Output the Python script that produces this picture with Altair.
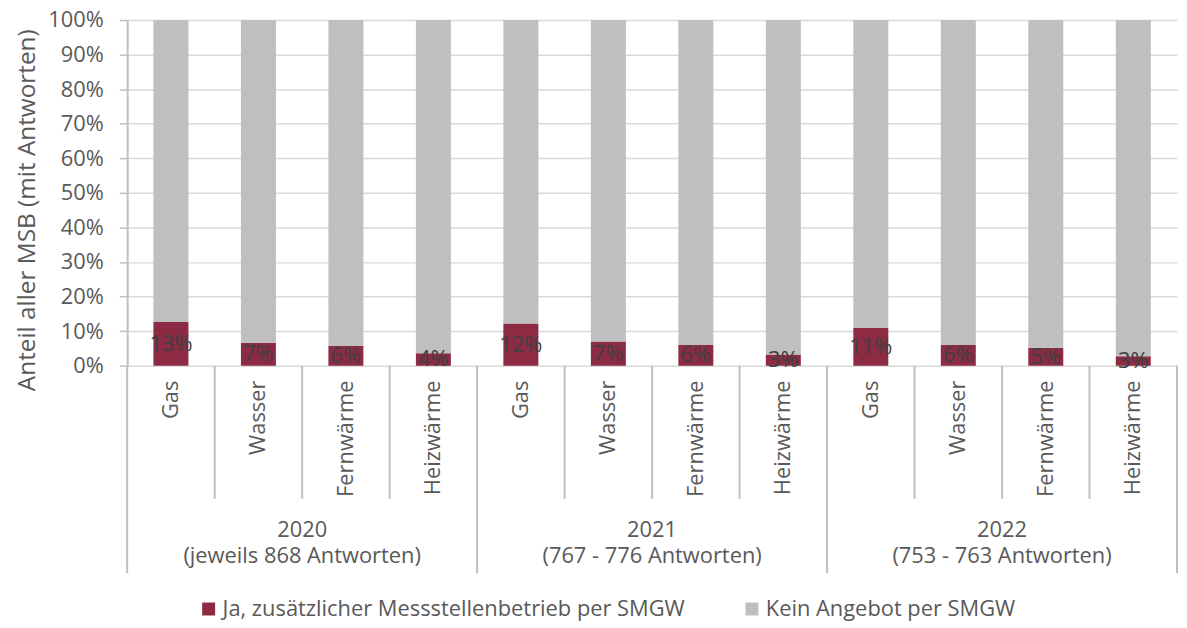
import altair as alt
import pandas as pd

years = ["2020", "2021", "2022"]
year_notes = ["(jeweils 868 Antworten)", "(767 - 776 Antworten)", "(753 - 763 Antworten)"]
categories = ["Gas", "Wasser", "Fernwärme", "Heizwärme"]
series_names = ["Ja, zusätzlicher Messstellenbetrieb per SMGW", "Kein Angebot per SMGW"]
ja_values = [12.6, 6.6, 5.7, 3.6, 12.2, 7.0, 6.0, 3.2, 10.9, 6.0, 5.2, 2.7]
y_ticks = [0, 10, 20, 30, 40, 50, 60, 70, 80, 90, 100]
colors = ["#8C2B43", "#BFBFBF"]

FONT = "Open Sans"
TXT = "#595959"
FS = 22

rows, lab_rows, cat_rows = [], [], []
i = 0
for y in years:
    for c in categories:
        v = ja_values[i]
        rows.append({"series": series_names[0], "x0": i + 0.3, "x1": i + 0.7, "lo": 0, "hi": v, "ord": 0})
        rows.append({"series": series_names[1], "x0": i + 0.3, "x1": i + 0.7, "lo": v, "hi": 100, "ord": 1})
        lab_rows.append({"xc": i + 0.5, "ym": v / 2, "txt": f"{v:.0f}%"})
        cat_rows.append({"xc": i + 0.5, "cat": c})
        i += 1
bars_df = pd.DataFrame(rows)
lab_df = pd.DataFrame(lab_rows)
cat_df = pd.DataFrame(cat_rows)
inner_df = pd.DataFrame({"b": [k for k in range(13) if k % 4 != 0]})
group_df = pd.DataFrame({"b": [0, 4, 8, 12]})
year_df = pd.DataFrame({"xc": [2, 6, 10], "y1": years, "y2": year_notes})

xs = alt.Scale(domain=[0, 12], nice=False, zero=False)
ys = alt.Scale(domain=[0, 100], nice=False)
yaxis = alt.Axis(
    title="Anteil aller MSB (mit Antworten)", values=y_ticks, tickCount=11,
    labelExpr="datum.value + '%'", labelOverlap=False, labelFlush=False,
    titleX=-100, titleY=191, titleAngle=270, titleAlign="center", titleBaseline="middle")

bars = alt.Chart(bars_df).mark_bar().encode(
    x=alt.X("x0:Q", scale=xs, axis=None),
    x2="x1",
    y=alt.Y("lo:Q", scale=ys, axis=yaxis),
    y2="hi",
    color=alt.Color("series:N", scale=alt.Scale(domain=series_names, range=colors),
                    legend=alt.Legend(title=None, orient="none", direction="horizontal",
                                      legendX=71, legendY=582, symbolType="square",
                                      symbolSize=170, symbolStrokeWidth=0,
                                      labelFontSize=FS, labelColor=TXT, labelFont=FONT,
                                      columnPadding=56, labelOffset=3, labelLimit=700)),
    order="ord:Q",
)

bar_labels = alt.Chart(lab_df).mark_text(fontSize=FS, font=FONT, color="#404040", baseline="middle").encode(
    x=alt.X("xc:Q", scale=xs, axis=None), y=alt.Y("ym:Q", scale=ys, axis=yaxis), text="txt:N")

cat_labels = alt.Chart(cat_df).mark_text(fontSize=FS, font=FONT, color=TXT, angle=270,
                                         align="right", baseline="middle").encode(
    x=alt.X("xc:Q", scale=xs, axis=None), y=alt.value(363), text="cat:N")

inner_rules = alt.Chart(inner_df).mark_rule(color="#BFBFBF", strokeWidth=2).encode(
    x=alt.X("b:Q", scale=xs, axis=None), y=alt.value(348), y2=alt.value(482))
group_rules = alt.Chart(group_df).mark_rule(color="#BFBFBF", strokeWidth=2).encode(
    x=alt.X("b:Q", scale=xs, axis=None), y=alt.value(348), y2=alt.value(557))

year1 = alt.Chart(year_df).mark_text(fontSize=FS, font=FONT, color=TXT, baseline="middle").encode(
    x=alt.X("xc:Q", scale=xs, axis=None), y=alt.value(513), text="y1:N")
year2 = alt.Chart(year_df).mark_text(fontSize=FS, font=FONT, color=TXT, baseline="middle").encode(
    x=alt.X("xc:Q", scale=xs, axis=None), y=alt.value(540), text="y2:N")

chart = alt.layer(bars, bar_labels, cat_labels, inner_rules, group_rules, year1, year2).properties(
    width=1057, height=348,
    autosize=alt.AutoSizeParams(type="none"),
    padding={"left": 120, "top": 10, "right": 2, "bottom": 262},
).configure_view(stroke=None).configure_axis(
    labelFont=FONT, titleFont=FONT, labelFontSize=FS, titleFontSize=24.5,
    labelColor=TXT, titleColor=TXT, titleFontWeight="normal",
    gridColor="#D9D9D9", gridWidth=1.5, domainColor="#BFBFBF", domainWidth=2,
    tickColor="#BFBFBF", tickSize=8, tickWidth=1.5, labelPadding=16,
)

chart.save("out.html", embed_options={"renderer": "svg", "actions": False})
